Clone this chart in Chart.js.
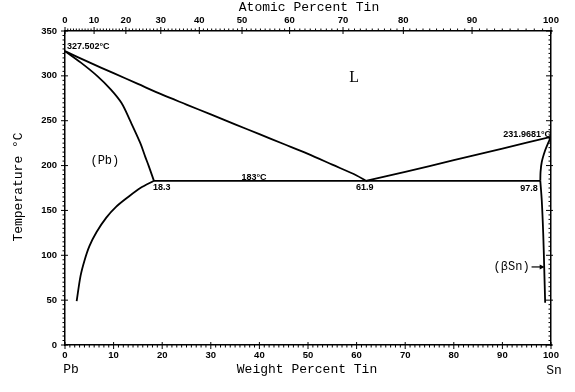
<!DOCTYPE html>
<html>
<head>
<meta charset="utf-8">
<script src="https://cdn.jsdelivr.net/npm/chart.js@4"></script>
<style>
  html, body { margin: 0; padding: 0; background: #fff; }
  canvas { display: block; }
</style>
</head>
<body>
<canvas id="phase-chart" width="575" height="392"></canvas>
<script>
// Pb-Sn phase diagram data (weight percent Sn, temperature in C)
const liquidusPbWt = [0, 5, 10, 15, 20, 25, 30, 35, 40, 45, 50, 55, 60, 61.9];
const liquidusPbT = [327.5, 315, 303, 291, 279, 268, 257, 246, 235, 224, 213, 201, 189, 183];

const solidusPbWt = [0, 3.2, 6.6, 9.4, 11.6, 13.4, 15.5, 16.5, 17.2, 18.3];
const solidusPbT = [327.5, 315, 300, 285, 270, 250, 225, 210, 200, 183];

const solvusPbWt = [18.3, 15.5, 13, 10.5, 8.5, 6.5, 5, 4, 3.2, 2.4];
const solvusPbT = [183, 175, 165, 154, 142, 126, 110, 94, 77, 49];

const liquidusSnWt = [61.9, 70, 80, 90, 100];
const liquidusSnT = [183, 193, 206, 219, 231.97];

const solidusSnWt = [100, 99.4, 98.8, 98.1, 97.85, 97.8];
const solidusSnT = [231.97, 225, 217, 204, 193, 183];

const solvusSnWt = [97.8, 98.1, 98.4, 98.6, 98.8];
const solvusSnT = [183, 161, 124, 87, 47];

const eutecticWt = [18.3, 97.8];
const eutecticT = [183, 183];

// tick labels
const weightTicks = [0, 10, 20, 30, 40, 50, 60, 70, 80, 90, 100];
const atomicTicks = [0, 10, 20, 30, 40, 50, 60, 70, 80, 90, 100];
const tempTicks = [0, 50, 100, 150, 200, 250, 300, 350];

// atomic masses used for the top axis
const massSn = 118.71;
const massPb = 207.2;
function atToWt(a) {
    return a * massSn / (a * massSn + (100 - a) * massPb) * 100;
}

function toPoints(xs, ys) {
    return xs.map((x, i) => ({ x: x, y: ys[i] }));
}

// text labels placed in data units
const notes = [
    { text: '327.502°C', x: 0.4, y: 333, align: 'left', font: 'bold 9px "Liberation Sans"' },
    { text: '231.9681°C', x: 100, y: 235, align: 'right', font: 'bold 9px "Liberation Sans"' },
    { text: '18.3', x: 18.1, y: 176, align: 'left', font: 'bold 9px "Liberation Sans"' },
    { text: '183°C', x: 38.9, y: 187, align: 'center', font: 'bold 9px "Liberation Sans"' },
    { text: '61.9', x: 61.7, y: 175, align: 'center', font: 'bold 9px "Liberation Sans"' },
    { text: '97.8', x: 97.3, y: 174, align: 'right', font: 'bold 9px "Liberation Sans"' },
    { text: 'L', x: 59.5, y: 298, align: 'center', font: '16px "Liberation Serif"' },
    { text: '(Pb)', x: 8.2, y: 205, align: 'center', font: '12px "Liberation Mono"' },
    { text: '(βSn)', x: 95.6, y: 87, align: 'right', font: '12px "Liberation Mono"' }
];

function curve(xs, ys, tension) {
    return {
        data: toPoints(xs, ys),
        borderColor: '#000',
        borderWidth: 1.8,
        pointRadius: 0,
        showLine: true,
        fill: false,
        tension: tension
    };
}

// draws the minor/major tick marks, labels, titles and the arrow
const decorations = {
    id: 'decorations',
    afterDraw(chart) {
        const ctx = chart.ctx;
        const xs = chart.scales.x;
        const ys = chart.scales.y;
        const area = chart.chartArea;
        ctx.save();
        ctx.strokeStyle = '#000';
        ctx.fillStyle = '#000';
        ctx.lineWidth = 1;

        ctx.beginPath();
        // bottom axis: every 1 wt%
        for (let w = 0; w <= 100; w++) {
            const px = xs.getPixelForValue(w);
            const major = w % 10 === 0;
            ctx.moveTo(px, area.bottom - (major ? 3 : 0));
            ctx.lineTo(px, area.bottom + (major ? 4 : 2.5));
        }
        // top axis: every 1 at%
        for (let a = 0; a <= 100; a++) {
            const px = xs.getPixelForValue(atToWt(a));
            const major = a % 10 === 0;
            ctx.moveTo(px, area.top + (major ? 3 : 0));
            ctx.lineTo(px, area.top - (major ? 4 : 2.5));
        }
        // left and right axes: every 5 C
        for (let t = 0; t <= 350; t += 5) {
            const py = ys.getPixelForValue(t);
            const major = t % 50 === 0;
            ctx.moveTo(area.left - (major ? 4 : 2.5), py);
            ctx.lineTo(area.left + (major ? 3 : 0), py);
            ctx.moveTo(area.right + (major ? 2 : 0), py);
            ctx.lineTo(area.right - (major ? 5 : 2.5), py);
        }
        ctx.stroke();

        // notes
        ctx.textBaseline = 'middle';
        notes.forEach(n => {
            ctx.font = n.font;
            ctx.textAlign = n.align;
            ctx.fillText(n.text, xs.getPixelForValue(n.x), ys.getPixelForValue(n.y));
        });

        // arrow to the (beta Sn) field
        const ay = ys.getPixelForValue(87);
        const ax0 = xs.getPixelForValue(96.0);
        const ax1 = xs.getPixelForValue(98.7);
        ctx.lineWidth = 1.2;
        ctx.beginPath();
        ctx.moveTo(ax0, ay);
        ctx.lineTo(ax1 - 4, ay);
        ctx.stroke();
        ctx.beginPath();
        ctx.moveTo(ax1, ay);
        ctx.lineTo(ax1 - 5, ay - 2.5);
        ctx.lineTo(ax1 - 5, ay + 2.5);
        ctx.closePath();
        ctx.fill();

        // axis titles and element names
        ctx.font = '13px "Liberation Mono"';
        ctx.textAlign = 'center';
        ctx.fillText('Atomic Percent Tin', 309, 8);
        ctx.fillText('Weight Percent Tin', 307, 370);
        ctx.fillText('Pb', area.left + 6, 370);
        ctx.fillText('Sn', area.right + 3, 371);
        ctx.translate(19, 187);
        ctx.rotate(-Math.PI / 2);
        ctx.fillText('Temperature °C', 0, 0);
        ctx.restore();
    }
};

const tickFont = { family: 'Liberation Sans', size: 9.5, weight: 'bold' };
const frame = { display: true, color: '#000', width: 1.5 };
const noGrid = { display: false, drawTicks: false, tickLength: 0 };

const ctx = document.getElementById('phase-chart').getContext('2d');
const phaseChart = new Chart(ctx, {
    type: 'scatter',
    data: {
        datasets: [
            curve(liquidusPbWt, liquidusPbT, 0.3),
            curve(solidusPbWt, solidusPbT, 0.35),
            curve(solvusPbWt, solvusPbT, 0.3),
            curve(liquidusSnWt, liquidusSnT, 0.2),
            curve(solidusSnWt, solidusSnT, 0.3),
            curve(solvusSnWt, solvusSnT, 0.3),
            curve(eutecticWt, eutecticT, 0)
        ]
    },
    options: {
        responsive: false,
        animation: false,
        devicePixelRatio: 1,
        layout: { padding: 0 },
        plugins: { legend: { display: false }, tooltip: { enabled: false } },
        scales: {
            x: {
                type: 'linear',
                position: 'bottom',
                min: 0,
                max: 100,
                afterBuildTicks: s => { s.ticks = weightTicks.map(v => ({ value: v })); },
                afterFit: s => { s.height = 47; },
                ticks: { font: tickFont, color: '#000', padding: 5, maxRotation: 0, autoSkip: false },
                grid: noGrid,
                border: frame
            },
            xTop: {
                type: 'linear',
                position: 'top',
                min: 0,
                max: 100,
                afterBuildTicks: s => { s.ticks = atomicTicks.map(a => ({ value: atToWt(a) })); },
                afterFit: s => { s.height = 31; },
                ticks: {
                    font: tickFont, color: '#000', padding: 5, maxRotation: 0, autoSkip: false,
                    callback: (v, i) => atomicTicks[i]
                },
                grid: noGrid,
                border: frame
            },
            y: {
                type: 'linear',
                position: 'left',
                min: 0,
                max: 350,
                afterBuildTicks: s => { s.ticks = tempTicks.map(v => ({ value: v })); },
                afterFit: s => { s.width = 65; },
                ticks: { font: tickFont, color: '#000', padding: 8 },
                grid: noGrid,
                border: frame
            },
            yRight: {
                type: 'linear',
                position: 'right',
                min: 0,
                max: 350,
                afterFit: s => { s.width = 24; },
                ticks: { display: false },
                grid: noGrid,
                border: frame
            }
        }
    },
    plugins: [decorations]
});
</script>
</body>
</html>
